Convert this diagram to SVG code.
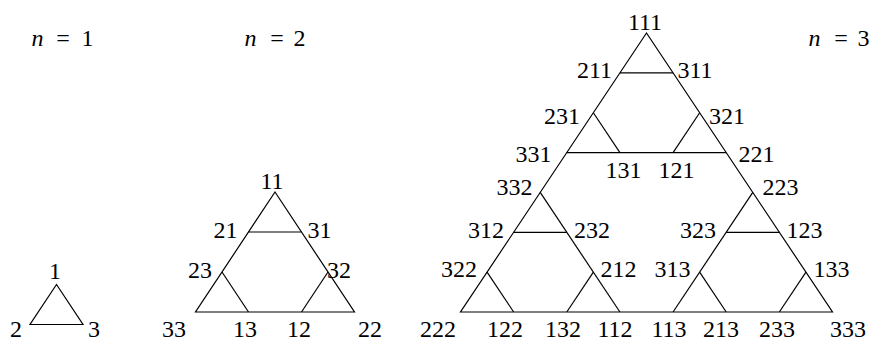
<svg xmlns="http://www.w3.org/2000/svg" width="871" height="341" viewBox="0 0 871 341">
<style>
.e{stroke:#000;stroke-width:1.2;fill:none}
.lbl{font-family:"Liberation Serif","Times New Roman",serif;font-size:24px;text-anchor:middle;fill:#000}
.it{font-style:italic}
</style>
<rect width="871" height="341" fill="#fff"/>
<g id="titles" class="lbl">
<text><tspan class="it" x="37.5" y="46">n</tspan><tspan x="63" y="46">=</tspan><tspan x="87.5" y="46">1</tspan></text>
<text><tspan class="it" x="250.5" y="46">n</tspan><tspan x="277" y="46">=</tspan><tspan x="299.5" y="46">2</tspan></text>
<text><tspan class="it" x="814.5" y="46">n</tspan><tspan x="841" y="46">=</tspan><tspan x="863.5" y="46">3</tspan></text>
</g>
<g id="connectors">
<polygon class="e" points="56.5,284.5 30,324.5 83,324.5"/>
<polygon class="e" points="275,192 195.5,312 354.5,312"/>
<line class="e" x1="248.5" y1="232" x2="301.5" y2="232"/>
<line class="e" x1="222" y1="272" x2="248.5" y2="312"/>
<line class="e" x1="328" y1="272" x2="301.5" y2="312"/>
<polygon class="e" points="646.5,33 460.5,312 832.5,312"/>
<line class="e" x1="619.93" y1="72.86" x2="673.07" y2="72.86"/>
<line class="e" x1="593.36" y1="112.71" x2="619.93" y2="152.57"/>
<line class="e" x1="699.64" y1="112.71" x2="673.07" y2="152.57"/>
<line class="e" x1="566.79" y1="152.57" x2="726.21" y2="152.57"/>
<line class="e" x1="540.21" y1="192.43" x2="619.93" y2="312"/>
<line class="e" x1="752.79" y1="192.43" x2="673.07" y2="312"/>
<line class="e" x1="513.64" y1="232.29" x2="566.79" y2="232.29"/>
<line class="e" x1="726.21" y1="232.29" x2="779.36" y2="232.29"/>
<line class="e" x1="487.07" y1="272.14" x2="513.64" y2="312"/>
<line class="e" x1="593.36" y1="272.14" x2="566.79" y2="312"/>
<line class="e" x1="699.64" y1="272.14" x2="726.21" y2="312"/>
<line class="e" x1="805.93" y1="272.14" x2="779.36" y2="312"/>
</g>
<g class="lbl">
<g id="n1-1"><text x="55" y="279">1</text></g>
<g id="n1-2"><text x="16" y="337">2</text></g>
<g id="n1-3"><text x="94" y="337">3</text></g>
<g id="n2-11"><text x="272" y="189">11</text></g>
<g id="n2-21"><text x="225.5" y="238">21</text></g>
<g id="n2-31"><text x="319.5" y="238">31</text></g>
<g id="n2-23"><text x="200" y="278">23</text></g>
<g id="n2-32"><text x="339" y="278">32</text></g>
<g id="n2-33"><text x="174" y="337">33</text></g>
<g id="n2-13"><text x="245" y="337">13</text></g>
<g id="n2-12"><text x="299" y="337">12</text></g>
<g id="n2-22"><text x="370" y="337">22</text></g>
<g id="n3-111"><text x="645" y="30">111</text></g>
<g id="n3-211"><text x="594.5" y="78">211</text></g>
<g id="n3-311"><text x="695" y="78">311</text></g>
<g id="n3-231"><text x="562" y="124">231</text></g>
<g id="n3-321"><text x="727" y="124">321</text></g>
<g id="n3-331"><text x="533.5" y="162">331</text></g>
<g id="n3-131"><text x="623.5" y="178">131</text></g>
<g id="n3-121"><text x="676.5" y="178">121</text></g>
<g id="n3-221"><text x="756.5" y="162">221</text></g>
<g id="n3-332"><text x="514.5" y="195">332</text></g>
<g id="n3-223"><text x="780.5" y="195">223</text></g>
<g id="n3-312"><text x="486" y="238">312</text></g>
<g id="n3-232"><text x="592" y="238">232</text></g>
<g id="n3-323"><text x="698" y="238">323</text></g>
<g id="n3-123"><text x="804.5" y="238">123</text></g>
<g id="n3-322"><text x="459" y="277">322</text></g>
<g id="n3-212"><text x="618.5" y="277">212</text></g>
<g id="n3-313"><text x="672.5" y="277">313</text></g>
<g id="n3-133"><text x="831.5" y="277">133</text></g>
<g id="n3-222"><text x="438" y="337">222</text></g>
<g id="n3-122"><text x="505" y="337">122</text></g>
<g id="n3-132"><text x="563" y="337">132</text></g>
<g id="n3-112"><text x="615" y="337">112</text></g>
<g id="n3-113"><text x="669" y="337">113</text></g>
<g id="n3-213"><text x="721" y="337">213</text></g>
<g id="n3-233"><text x="777" y="337">233</text></g>
<g id="n3-333"><text x="848" y="337">333</text></g>
</g>
</svg>
